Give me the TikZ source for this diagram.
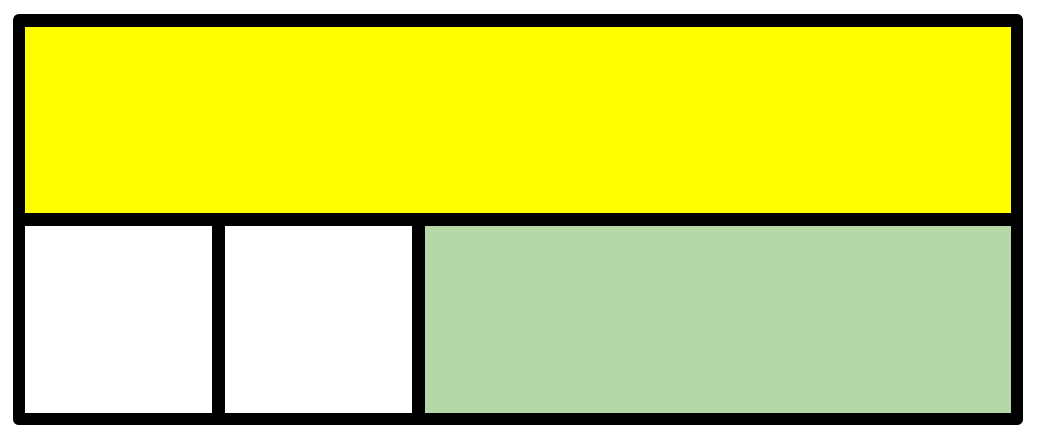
\documentclass[tikz,border=0pt]{standalone}
\definecolor{cellgreen}{HTML}{B6D7A8}
\definecolor{cellyellow}{HTML}{FFFF00}
\begin{document}
\begin{tikzpicture}[x=1pt,y=-1pt,
  cell/.style={draw=black,line width=12.8pt,line join=round,line cap=round}]
\useasboundingbox (0,0) rectangle (1039,432);
\fill[white] (0,0) rectangle (1039,432);
\path[cell,fill=cellyellow] (19,20.5) rectangle (1017,219.5);
\path[cell,fill=white] (19,219.5) rectangle (218.5,419);
\path[cell,fill=white] (218.5,219.5) rectangle (418.3,419);
\path[cell,fill=cellgreen] (418.3,219.5) rectangle (1017,419);
\end{tikzpicture}
\end{document}
